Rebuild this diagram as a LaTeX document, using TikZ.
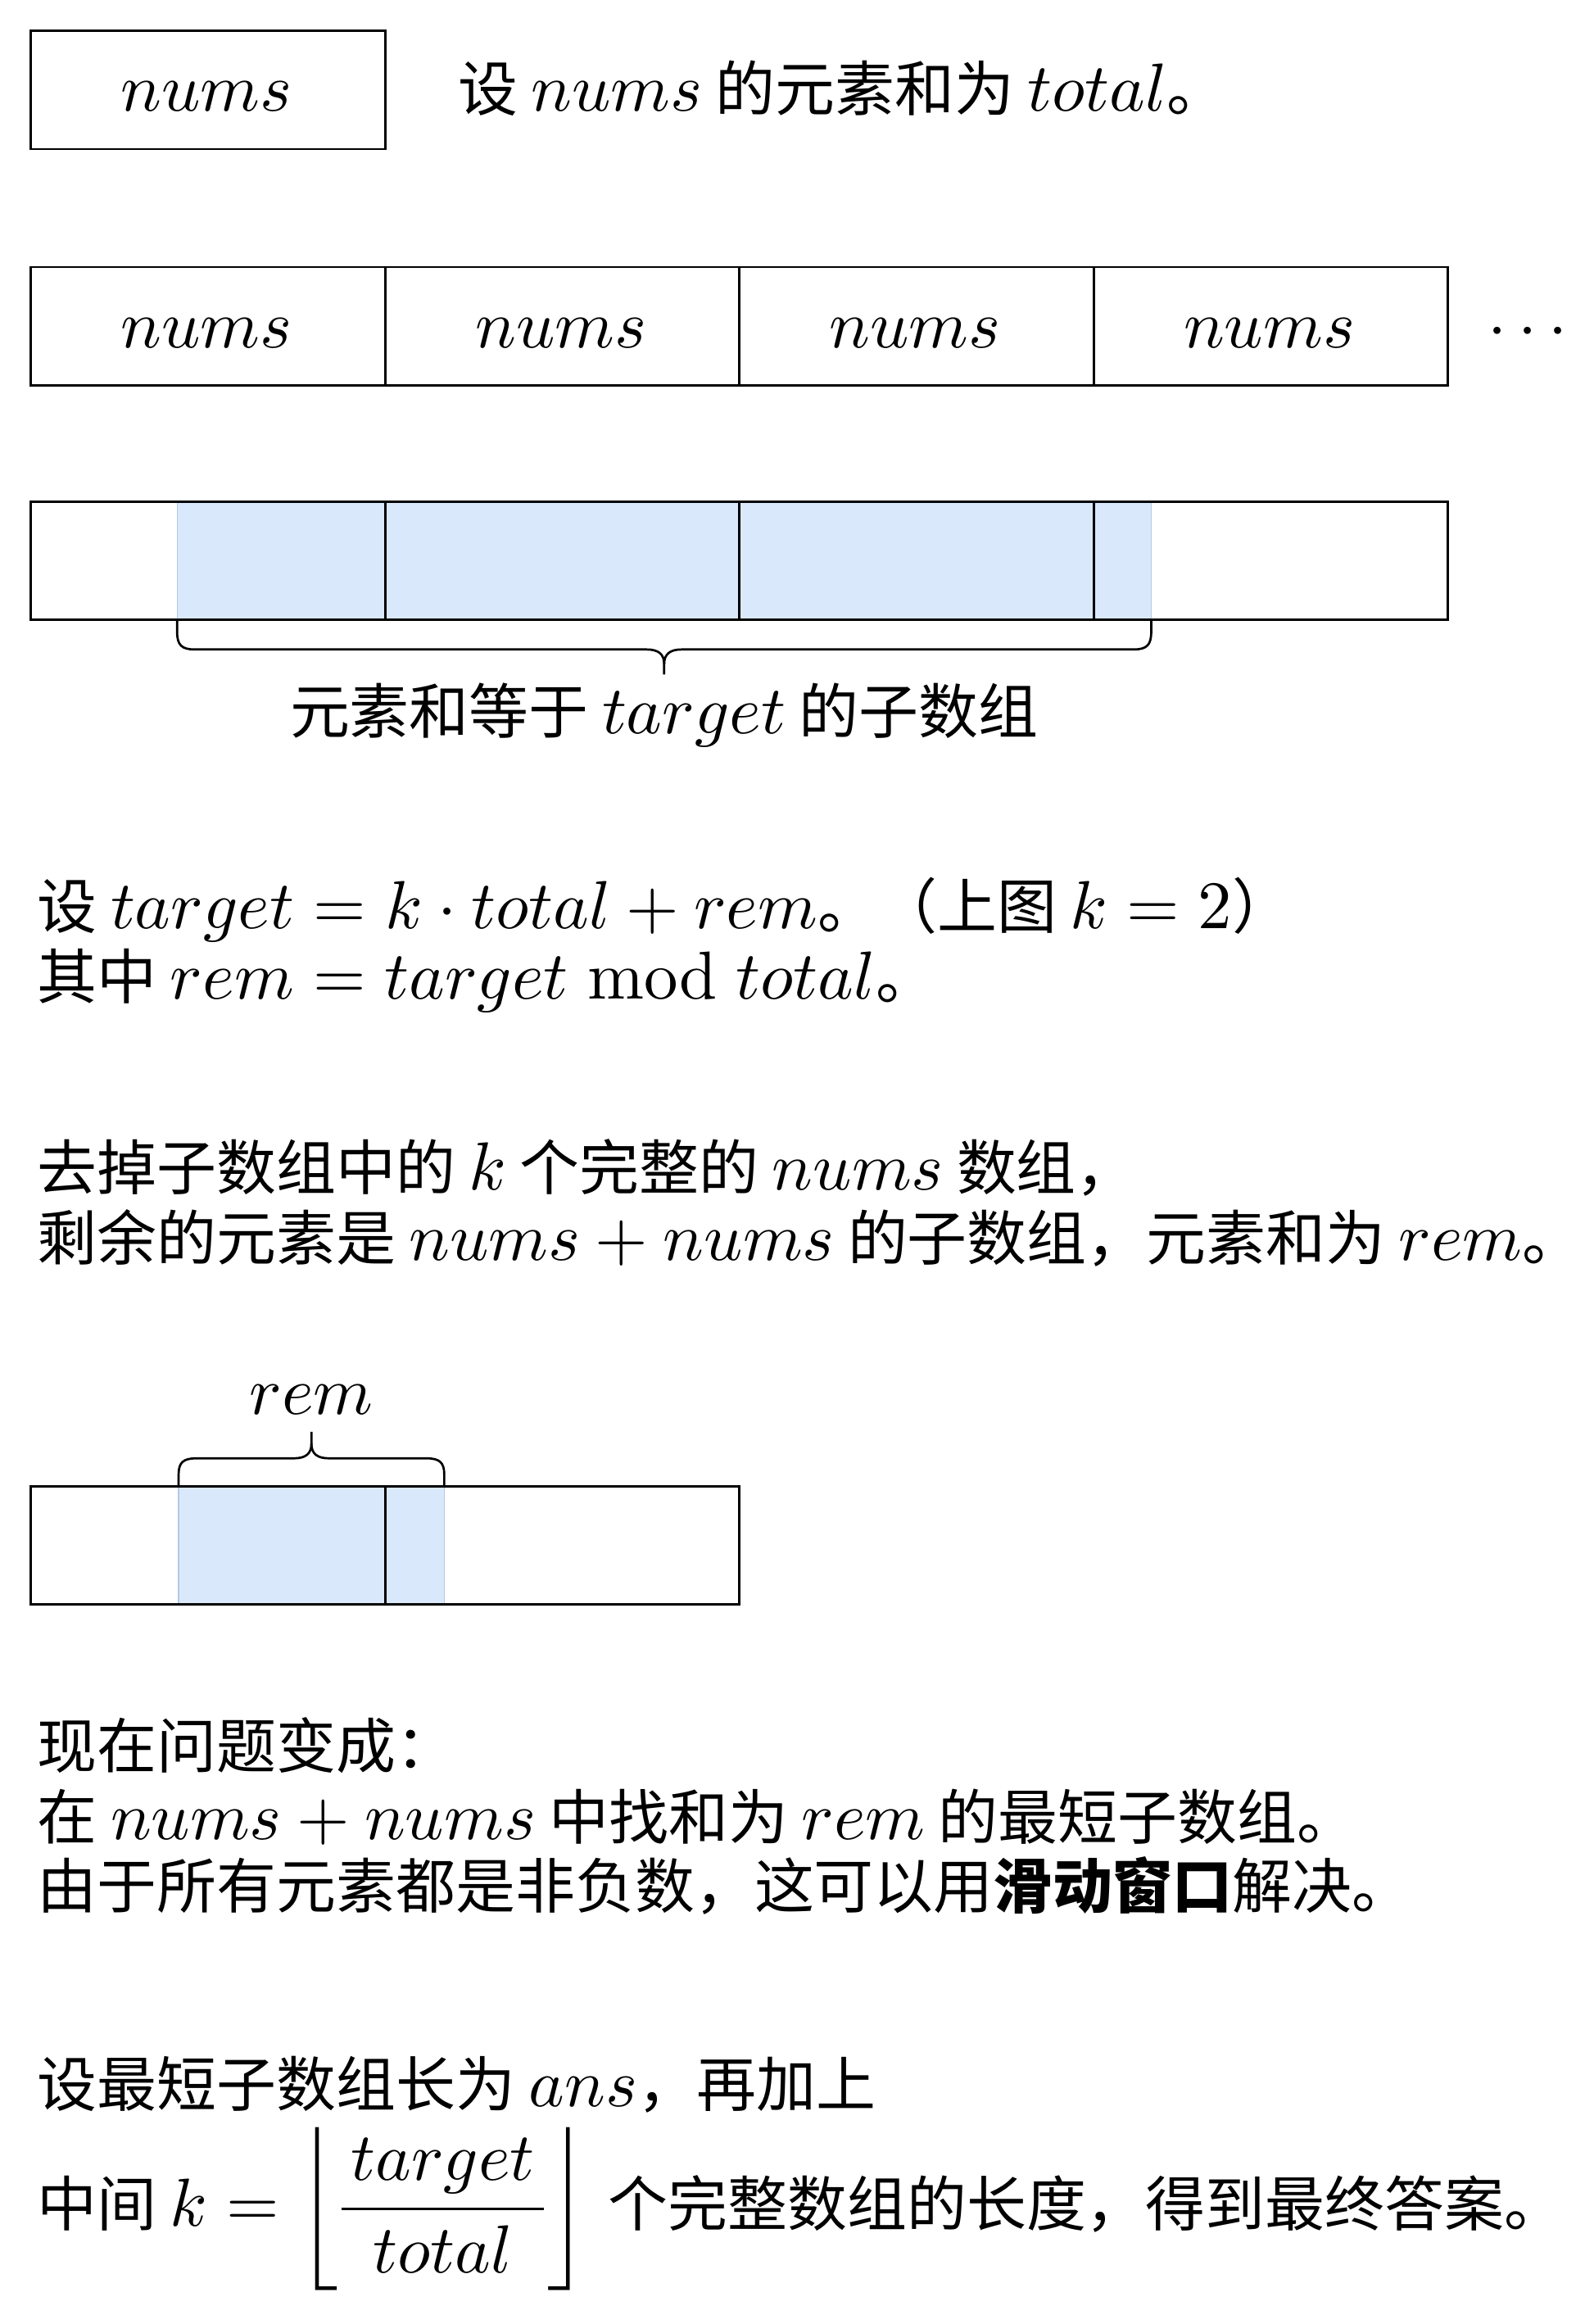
\documentclass[tikz,border=0pt]{standalone}
\usepackage[no-math]{fontspec}
\setmainfont{Noto Sans CJK SC}[Scale=0.88]
\usepackage{amsmath}
\DeclareFontShape{OML}{cmm}{m}{it}{<-> cmmi10}{}
\DeclareFontShape{OT1}{cmr}{m}{n}{<-> cmr10}{}
\DeclareFontShape{OMS}{cmsy}{m}{n}{<-> cmsy10}{}
\DeclareFontShape{OMX}{cmex}{m}{n}{<-> cmex10}{}
\definecolor{cellblue}{HTML}{DAE8FC}
\definecolor{celledge}{HTML}{B4C8E6}
\tikzset{
  cellbox/.style={draw, line width=0.75pt, minimum width=120pt, minimum height=40pt, inner sep=0pt},
  txt/.style={inner sep=0pt, anchor=base west, text height=17pt, text depth=5pt, font=\fontsize{23}{28}\selectfont},
  lbl/.style={inner sep=0pt, anchor=base, font=\fontsize{23}{28}\selectfont},
  brace/.style={line width=0.75pt, line join=round},
  hilite/.style={fill=cellblue, draw=celledge, line width=0.4pt}
}
\begin{document}
\begin{tikzpicture}[x=0.5pt,y=-0.5pt]
\useasboundingbox (0,0) rectangle (1080,1574.5);
% row 1
\node[cellbox] (b1) at (141,61) {};
\node[lbl] (b1t) at (140,75) {$nums$};
\node[txt] (t1) at (310,75) {设 $nums$ 的元素和为 $total$。};
% row 2
\foreach \i in {0,...,3} {
  \node[cellbox] (r2c\i) at (141+240*\i,221) {};
  \node[lbl] (r2t\i) at (140+240*\i,235.5) {$nums$};
}
\node[lbl] (dots) at (1039,235.5) {$\cdots$};
% row 3
\path[hilite] (120,340) rectangle (780,420);
\foreach \i in {0,...,3} {
  \node[cellbox] (r3c\i) at (141+240*\i,380) {};
}
\draw[brace] (120,420) -- (120,428) .. controls (120,437) and (123,440) .. (132,440)
  -- (438,440) .. controls (446,440) and (450,443) .. (450,450) -- (450,457);
\draw[brace] (450,450) .. controls (450,443) and (454,440) .. (462,440)
  -- (768,440) .. controls (777,440) and (780,437) .. (780,428) -- (780,420);
\node[lbl] (t3) at (450,497) {元素和等于 $target$ 的子数组};
% formulas
\node[txt] (l1) at (25,629) {设 $target = k \cdot total + rem$。（上图 $k = 2$）};
\node[txt] (l2) at (25,677) {其中 $rem = target \bmod total$。};
\node[txt] (l3) at (25,806) {去掉子数组中的 $k$ 个完整的 $nums$ 数组，};
\node[txt] (l4) at (25,854) {剩余的元素是 $nums + nums$ 的子数组，元素和为 $rem$。};
% row 4
\path[hilite] (121,1007) rectangle (301,1087);
\node[cellbox] (r4c0) at (141,1047) {};
\node[cellbox] (r4c1) at (381,1047) {};
\draw[brace] (121,1007) -- (121,999) .. controls (121,991) and (124,988) .. (133,988)
  -- (199,988) .. controls (207,988) and (211,985) .. (211,978) -- (211,970);
\draw[brace] (211,978) .. controls (211,985) and (215,988) .. (223,988)
  -- (289,988) .. controls (298,988) and (301,991) .. (301,999) -- (301,1007);
\node[lbl] (rem) at (211,958) {$rem$};
% text
\node[txt] (l5) at (25,1198) {现在问题变成：};
\node[txt] (l6) at (25,1246) {在 $nums + nums$ 中找和为 $rem$ 的最短子数组。};
\node[txt] (l7) at (25,1293) {由于所有元素都是非负数，这可以用\textbf{滑动窗口}解决。};
\node[txt] (l8) at (25,1427) {设最短子数组长为 $ans$，再加上};
\node[txt] (l9) at (25,1508) {中间 $k = \left\lfloor \dfrac{\mkern2.5mu target\mkern2.5mu}{total} \right\rfloor$\hspace{2.5pt} 个完整数组的长度，得到最终答案。};
\end{tikzpicture}
\end{document}
